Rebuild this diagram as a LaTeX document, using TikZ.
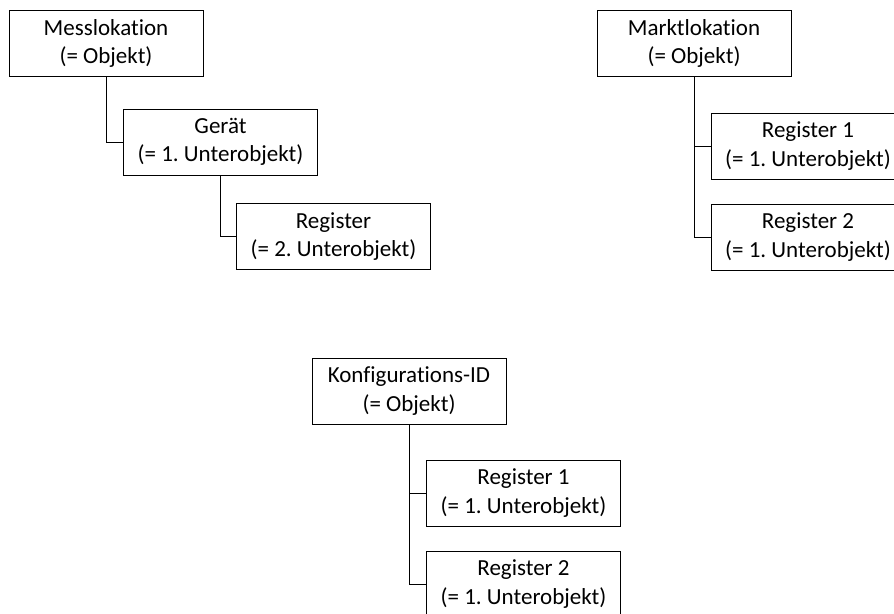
\documentclass[tikz,border=0pt]{standalone}
\usepackage{fontspec}
\setmainfont{Carlito}[Ligatures=NoCommon]
\frenchspacing
\begin{document}
\begin{tikzpicture}[x=1pt,y=-1pt,
  obj/.style={draw=black, line width=0.9pt, minimum width=194pt, minimum height=66pt,
    inner sep=0pt, align=center, font=\fontsize{23}{28.5}\selectfont\frenchspacing},
  conn/.style={draw=black, line width=0.9pt}]
\useasboundingbox (0,0) rectangle (894,613);
\clip (0,0) rectangle (894,613);
\node[obj] (mess) at (106,43.5) {Messlokation\\(= Objekt)};
\node[obj] (ger) at (220.5,142) {Gerät\\(= 1. Unterobjekt)};
\node[obj] (reg) at (333.5,236.5) {Register\\(= 2. Unterobjekt)};
\node[obj] (markt) at (694,43.5) {Marktlokation\\(= Objekt)};
\node[obj] (mr1) at (808,146) {Register 1\\(= 1. Unterobjekt)};
\node[obj] (mr2) at (808,237) {Register 2\\(= 1. Unterobjekt)};
\node[obj] (konf) at (409,391) {Konfigurations-ID\\(= Objekt)};
\node[obj] (kr1) at (523.5,493) {Register 1\\(= 1. Unterobjekt)};
\node[obj] (kr2) at (523.5,584) {Register 2\\(= 1. Unterobjekt)};
\draw[conn] (mess.south) |- (ger.west);
\draw[conn] (ger.south) |- (reg.west);
\draw[conn] (markt.south) |- (mr1.west);
\draw[conn] (markt.south) |- (mr2.west);
\draw[conn] (konf.south) |- (kr1.west);
\draw[conn] (konf.south) |- (kr2.west);
\end{tikzpicture}
\end{document}
